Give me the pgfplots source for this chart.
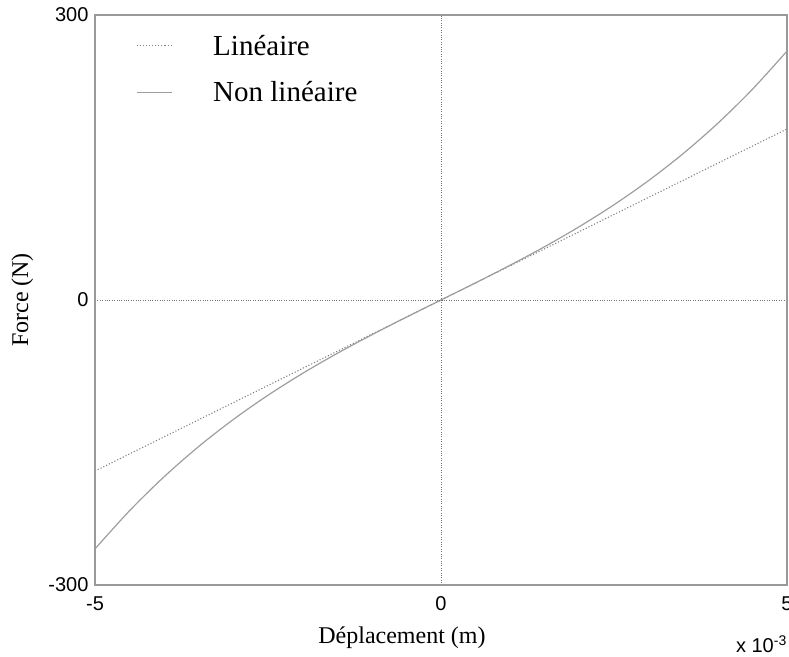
\documentclass[border=0pt]{standalone}
\usepackage{pgfplots}
\pgfplotsset{compat=1.18}
\usepackage{fontspec}
\setmainfont{Liberation Serif}
\newfontfamily\ticksfont{Liberation Sans}

\begin{document}
\begin{tikzpicture}
\begin{axis}[
  scale only axis, width=692bp, height=570bp,
  xmin=-5, xmax=5, ymin=-300, ymax=300,
  xtick={-5,0,5}, ytick={-300,0,300},
  axis line style={black!40, line width=1.2bp},
  tick style={draw=none},
  grid=major,
  major grid style={black!55, dotted, line width=0.8bp},
  axis on top,
  ticklabel style={font=\ticksfont\fontsize{20bp}{22bp}\selectfont},
  /pgf/number format/assume math mode=true,
  xticklabel style={yshift=-8bp},
  yticklabel style={xshift=-3bp},
  xlabel={Déplacement (m)}, ylabel={Force (N)},
  label style={font=\fontsize{24bp}{28bp}\selectfont},
  xlabel style={at={(axis description cs:0.4436,-0.093)}, anchor=center},
  ylabel style={at={(axis description cs:-0.105,0.5)}, anchor=center},
  legend style={draw=none, fill=none, inner sep=0pt,
    at={(axis description cs:0.059,0.969)}, anchor=north west,
    font=\fontsize{29bp}{33bp}\selectfont,
    row sep=21bp, column sep=39bp},
  legend cell align=left,
  legend image code/.code={\draw[#1] (0bp,0bp) -- (35bp,0bp);},
]
% linear spring: F = k x
\addplot[black!50, dotted, line width=1.1bp] coordinates {(-5,-180) (5,180)};
\addlegendentry{Linéaire}
% hardening spring
\addplot[black!38, line width=1.2bp, smooth] coordinates {
 (-5,-262) (-4.5,-221.78) (-4,-185.98) (-3.5,-154.13) (-3,-125.71)
 (-2.5,-100.25) (-2,-77.25) (-1.5,-56.21) (-1,-36.66) (-0.5,-18.08)
 (0,0) (0.5,18.08) (1,36.66) (1.5,56.21) (2,77.25) (2.5,100.25)
 (3,125.71) (3.5,154.13) (4,185.98) (4.5,221.78) (5,262)};
\addlegendentry{Non linéaire}
\end{axis}
% axis multiplier below the right end of the x axis
\node[anchor=base east, inner sep=0pt, font=\ticksfont\fontsize{20bp}{22bp}\selectfont]
  at ([shift={(0bp,-68bp)}]current axis.south east) {x 10\textsuperscript{-3}};
\pgfresetboundingbox
\path ([shift={(-95bp,-72bp)}]current axis.south west) rectangle ([shift={(2bp,15bp)}]current axis.north east);
\end{tikzpicture}
\end{document}
